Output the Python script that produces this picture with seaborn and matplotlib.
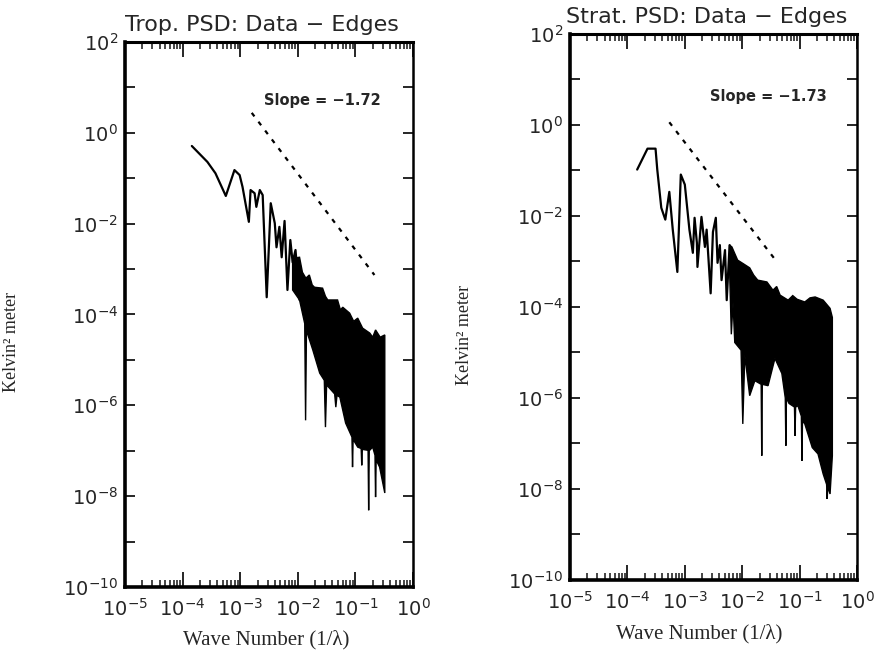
import numpy as np
import pandas as pd
import matplotlib
matplotlib.use("Agg")
import matplotlib.pyplot as plt
from matplotlib.ticker import LogLocator, NullLocator
import seaborn as sns

# ---- data (log10 of wave number / log10 of power) ----
# Troposphere: low-frequency trace
trop_k_line = [-3.84, -3.57, -3.43, -3.25, -3.10, -3.01, -2.96, -2.85, -2.82, -2.75, -2.72, -2.66, -2.61,
               -2.54, -2.47, -2.40, -2.37, -2.32, -2.28, -2.23, -2.18, -2.13, -2.09, -2.04, -1.97]
trop_p_line = [-0.29, -0.64, -0.89, -1.39, -0.82, -0.93, -1.19, -1.96, -1.26, -1.33, -1.63, -1.26, -1.37,
               -3.62, -1.55, -1.99, -2.52, -2.07, -2.74, -1.94, -3.46, -2.36, -2.85, -2.58, -3.68]
# Troposphere: dense high-frequency band (top and bottom edges)
trop_k_upper = [-2.09, -1.97, -1.92, -1.86, -1.80, -1.75, -1.71, -1.57, -1.52, -1.48, -1.31, -1.26, -1.22,
                -1.10, -1.03, -0.96, -0.875, -0.75, -0.70, -0.65, -0.57, -0.49]
trop_p_upper = [-2.76, -2.74, -3.07, -3.20, -3.13, -3.35, -3.40, -3.42, -3.60, -3.68, -3.68, -3.90, -3.84,
                -3.97, -4.15, -4.08, -4.30, -4.41, -4.50, -4.34, -4.50, -4.45]
trop_k_lower = [-2.09, -1.97, -1.88, -1.865, -1.85, -1.74, -1.62, -1.54, -1.52, -1.50, -1.36, -1.34, -1.32,
                -1.27, -1.17, -1.06, -1.05, -1.04, -0.96, -0.90, -0.89, -0.88, -0.78, -0.77, -0.76,
                -0.70, -0.66, -0.65, -0.64, -0.58, -0.49]
trop_p_lower = [-3.46, -3.68, -4.20, -6.33, -4.35, -4.78, -5.29, -5.45, -6.48, -5.55, -5.75, -6.04, -5.78,
                -5.82, -6.39, -6.70, -7.36, -6.75, -6.92, -6.95, -7.32, -6.97, -6.99, -8.31, -7.00,
                -6.92, -7.10, -8.02, -7.20, -7.36, -7.93]
trop_k_slope = [-2.80, -0.67]
trop_p_slope = [0.44, -3.13]

# Stratosphere
strat_k_line = [-3.83, -3.65, -3.51, -3.48, -3.41, -3.34, -3.27, -3.21, -3.13, -3.07, -3.00, -2.92, -2.86,
                -2.83, -2.79, -2.78, -2.71, -2.65, -2.62, -2.55, -2.51, -2.46, -2.43, -2.39, -2.36, -2.30,
                -2.27, -2.22]
strat_p_line = [-0.98, -0.52, -0.52, -0.98, -1.82, -2.08, -1.47, -2.30, -3.23, -1.09, -1.31, -2.30, -2.81,
                -2.04, -2.59, -3.12, -2.02, -2.68, -2.30, -3.70, -2.35, -2.04, -3.03, -2.64, -3.41, -2.75,
                -3.85, -2.64]
strat_k_upper = [-2.22, -2.18, -2.08, -1.98, -1.87, -1.80, -1.73, -1.57, -1.465, -1.40, -1.34, -1.20, -1.12,
                 -1.045, -0.91, -0.82, -0.73, -0.59, -0.47, -0.43]
strat_p_upper = [-2.64, -2.68, -2.97, -3.05, -3.14, -3.30, -3.41, -3.45, -3.63, -3.55, -3.74, -3.85, -3.75,
                 -3.83, -3.89, -3.80, -3.78, -3.85, -4.03, -4.23]
strat_k_lower = [-2.22, -2.19, -2.16, -2.13, -2.02, -1.99, -1.955, -1.87, -1.78, -1.67, -1.66, -1.65, -1.55,
                 -1.43, -1.31, -1.25, -1.24, -1.23, -1.185, -1.09, -1.08, -1.07, -1.03, -0.97, -0.96,
                 -0.95, -0.91, -0.78, -0.68, -0.59, -0.53, -0.52, -0.51, -0.47, -0.43]
strat_p_lower = [-3.20, -4.60, -3.90, -4.78, -4.95, -6.57, -5.06, -5.95, -5.62, -5.70, -7.27, -5.70, -5.73,
                 -5.13, -5.46, -6.00, -7.05, -6.00, -6.12, -6.20, -6.83, -6.20, -6.17, -6.40, -7.38,
                 -6.50, -6.57, -7.09, -7.23, -7.67, -7.90, -8.22, -7.95, -8.11, -7.27]
strat_k_slope = [-3.27, -1.45]
strat_p_slope = [0.06, -2.92]

titles = ["Trop. PSD: Data \u2212 Edges", "Strat. PSD: Data \u2212 Edges"]
slope_labels = ["Slope = \u22121.72", "Slope = \u22121.73"]
slope_text_pos = [(-2.58, 0.72), (-2.57, 0.63)]
x_decades = [-5, -4, -3, -2, -1, 0]
y_decades = list(range(-10, 3))

sns.set_style("ticks")
plt.rcParams["font.family"] = ["DejaVu Sans"]
plt.rcParams["mathtext.fontset"] = "dejavusans"

fig = plt.figure(figsize=(8.81, 6.51), dpi=100)
ax_l = fig.add_axes([0.1419, 0.0983, 0.3269, 0.8372])
ax_r = fig.add_axes([0.6470, 0.1091, 0.3258, 0.8387])

panels = [
    (ax_l, trop_k_line, trop_p_line, trop_k_upper, trop_p_upper, trop_k_lower, trop_p_lower,
     trop_k_slope, trop_p_slope),
    (ax_r, strat_k_line, strat_p_line, strat_k_upper, strat_p_upper, strat_k_lower, strat_p_lower,
     strat_k_slope, strat_p_slope),
]

for i, (ax, kl, pl, ku, pu, kd, pd_, ks, ps) in enumerate(panels):
    ax.set_xscale("log")
    ax.set_yscale("log")

    line_df = pd.DataFrame({"k": 10.0 ** np.array(kl), "p": 10.0 ** np.array(pl)})
    sns.lineplot(data=line_df, x="k", y="p", sort=False, estimator=None, color="black",
                 linewidth=1.6, ax=ax)

    # dense noisy band as a filled outline
    poly_k = 10.0 ** np.concatenate([ku, kd[::-1]])
    poly_p = 10.0 ** np.concatenate([pu, pd_[::-1]])
    ax.fill(poly_k, poly_p, facecolor="black", edgecolor="black", linewidth=1.0)

    slope_df = pd.DataFrame({"k": 10.0 ** np.array(ks), "p": 10.0 ** np.array(ps)})
    sns.lineplot(data=slope_df, x="k", y="p", sort=False, estimator=None, color="black",
                 linewidth=1.6, linestyle=(0, (2, 3)), ax=ax)

    tx, ty = slope_text_pos[i]
    ax.text(10.0 ** tx, 10.0 ** ty, slope_labels[i], fontsize=10.5, fontweight="bold",
            ha="left", va="center")

    ax.set_xlim(1e-5, 1e0)
    ax.set_ylim(1e-10, 1e2)

    ax.set_xticks([10.0 ** d for d in x_decades])
    ax.set_xticklabels([r"$10^{%d}$" % d for d in x_decades])
    ax.xaxis.set_minor_locator(LogLocator(base=10, subs=np.arange(2, 10), numticks=20))
    ax.set_yticks([10.0 ** d for d in y_decades])
    ax.set_yticklabels([r"$10^{%d}$" % d if d % 2 == 0 else "" for d in y_decades])
    ax.yaxis.set_minor_locator(NullLocator())

    ax.tick_params(axis="x", which="major", direction="in", length=11, width=1.4,
                   top=True, bottom=True, labelsize=14, pad=8)
    ax.tick_params(axis="x", which="minor", direction="in", length=5, width=1.2,
                   top=True, bottom=True)
    ax.tick_params(axis="y", which="major", direction="in", length=7, width=1.4,
                   left=True, right=True, labelsize=14, pad=5)

    for side, lw in [("left", 2.6), ("bottom", 2.6), ("top", 2.2), ("right", 1.8)]:
        ax.spines[side].set_linewidth(lw)
        ax.spines[side].set_color("black")

    ax.set_xlabel("Wave Number (1/\u03bb)", family="Liberation Serif", fontsize=15)
    ax.set_ylabel("Kelvin\u00b2 meter", family="Liberation Serif", fontsize=13)

ax_l.xaxis.set_label_coords(0.49, -0.079)
ax_r.xaxis.set_label_coords(0.45, -0.081)
ax_l.yaxis.set_label_coords(-0.365, 0.45)
ax_r.yaxis.set_label_coords(-0.338, 0.449)

fig.text(0.2974, 0.9524, titles[0], ha="center", va="baseline", fontsize=16)
fig.text(0.8025, 0.9647, titles[1], ha="center", va="baseline", fontsize=16)

fig.savefig("out.png", dpi=100, facecolor="white")
